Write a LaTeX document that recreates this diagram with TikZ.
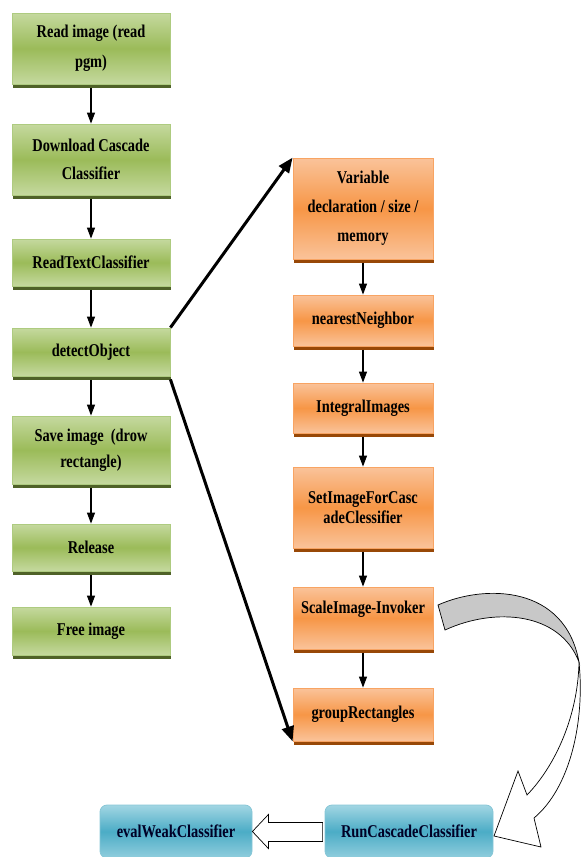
\documentclass[tikz,border=0pt]{standalone}
\usepackage{fontspec}
\setmainfont[FakeStretch=0.8]{Liberation Serif}
\usetikzlibrary{arrows.meta,shadows,calc}
\definecolor{gtop}{HTML}{C5D99F}
\definecolor{gmid}{HTML}{9BBB59}
\definecolor{gline}{HTML}{AECB80}
\definecolor{gshadow}{HTML}{4F6228}
\definecolor{otop}{HTML}{FAC39A}
\definecolor{omid}{HTML}{F79646}
\definecolor{oline}{HTML}{F8A463}
\definecolor{oshadow}{HTML}{984807}
\definecolor{btop}{HTML}{A2D6E3}
\definecolor{bmid}{HTML}{4BACC6}
\definecolor{bline}{HTML}{86C6D6}
\definecolor{arrowgray}{HTML}{C8C8C8}
\begin{document}
\begin{tikzpicture}[x=1pt,y=-1pt,
  box/.style={draw, line width=0.8pt, align=center, inner sep=2pt,
    font=\fontsize{18}{28}\selectfont\bfseries},
  gbox/.style={box, draw=gline, top color=gtop, bottom color=gtop, middle color=gmid,
    minimum width=158pt,
    drop shadow={fill=gshadow, opacity=1, shadow xshift=0.5pt, shadow yshift=-3.5pt}},
  obox/.style={box, draw=oline, top color=otop, bottom color=otop, middle color=omid,
    minimum width=140pt,
    drop shadow={fill=oshadow, opacity=1, shadow xshift=0.5pt, shadow yshift=-3.5pt}},
  bbox/.style={box, draw=bline, rounded corners=7pt, top color=btop, bottom color=btop!80!bmid,
    middle color=bmid, minimum height=53pt, text=black!85!blue},
  flow/.style={-{Triangle[length=11pt,width=8pt]}, line width=1.1pt},
  bigflow/.style={-{Triangle[length=15pt,width=12pt]}, line width=3pt},
  outline/.style={draw=black, line width=0.7pt},
]
\useasboundingbox (0,0) rectangle (581,857);

% green column
\node[gbox, minimum height=71pt, font=\fontsize{18}{30}\selectfont\bfseries] (g1) at (91,48.5) {Read image (read\\pgm)};
\node[gbox, minimum height=71pt] (g2) at (91,159.5) {Download Cascade\\Classifier};
\node[gbox, minimum height=47pt] (g3) at (91,262.5) {ReadTextClassifier};
\node[gbox, minimum height=48pt] (g4) at (91,352) {detectObject};
\node[gbox, minimum height=68pt, font=\fontsize{18}{26}\selectfont\bfseries] (g5) at (91,450) {Save image\ \ (drow\\rectangle)};
\node[gbox, minimum height=47pt] (g6) at (91,547.5) {Release};
\node[gbox, minimum height=48pt] (g7) at (91,631) {Free image};

% orange column
\node[obox, minimum height=101pt, font=\fontsize{18}{29}\selectfont\bfseries] (o1) at (363,208.5) {Variable\\declaration / size /\\memory};
\node[obox, minimum height=51pt] (o2) at (363,320.5) {nearestNeighbor};
\node[obox, minimum height=50pt] (o3) at (363,408) {IntegralImages};
\node[obox, minimum height=81pt, font=\fontsize{18}{20}\selectfont\bfseries] (o4) at (363,507.5) {SetImageForCasc\\adeClessifier};
\node[obox, minimum height=62pt] (o5) at (363,618) {ScaleImage-Invoker\\[-6pt]\mbox{}};
\node[obox, minimum height=53pt] (o6) at (363,714.5) {groupRectangles};

% blue boxes
\node[bbox, minimum width=152pt] (b1) at (176,831.5) {evalWeakClassifier};
\node[bbox, minimum width=168pt] (b2) at (409,831.5) {RunCascadeClassifier};

% thin arrows
\foreach \a/\b in {g1/g2,g2/g3,g3/g4,g4/g5,g5/g6,g6/g7,o1/o2,o2/o3,o3/o4,o4/o5,o5/o6}
  \draw[flow] ([yshift=-3.5pt]\a.south) -- (\b.north);

% thick arrows
\draw[bigflow] (g4.north east) -- (o1.north west);
\draw[bigflow] ([yshift=-3pt]g4.south east) -- (o6.south west);

% hollow block arrow
\draw[outline, fill=white]
  ([xshift=-2pt,yshift=9pt]b2.west) -- ([xshift=16pt,yshift=9pt]b1.east)
  -- ([xshift=16pt,yshift=17pt]b1.east) -- ([yshift=0pt]b1.east)
  -- ([xshift=16pt,yshift=-17pt]b1.east) -- ([xshift=16pt,yshift=-10pt]b1.east)
  -- ([xshift=-2pt,yshift=-10pt]b2.west) -- cycle;

% curved block arrow
\draw[outline, fill=arrowgray] (438,605) .. controls (485,584) and (565,585) .. (579,662)
  .. controls (560,612) and (495,607) .. (445,630) -- cycle;
\draw[outline, fill=white] (579,662) .. controls (585,722) and (570,788) .. (534,818)
  -- (541,847) -- (494,836) -- (518,771) -- (527,795)
  .. controls (556,765) and (578,715) .. (579,662) -- cycle;
\end{tikzpicture}
\end{document}
